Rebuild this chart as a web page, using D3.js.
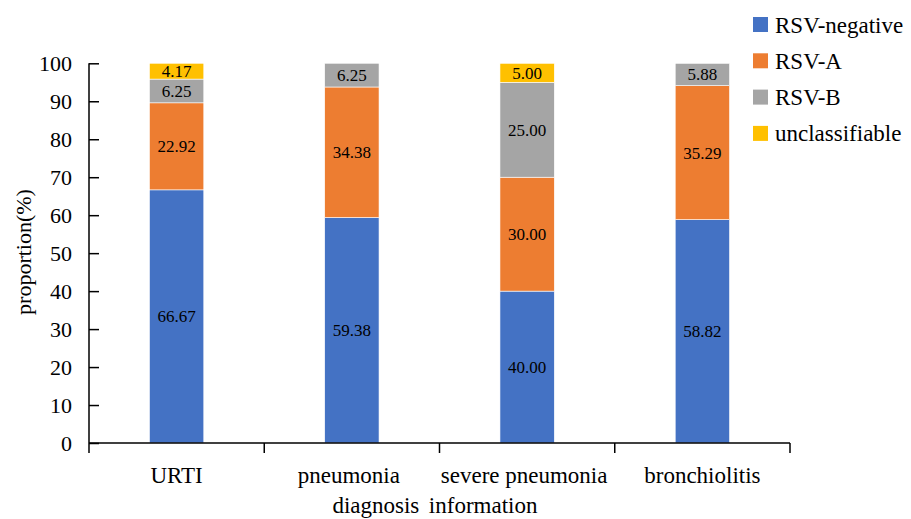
<!DOCTYPE html>
<html><head><meta charset="utf-8">
<script src="https://cdn.jsdelivr.net/npm/d3@7"></script>
<style>body{margin:0;background:#fff}svg{display:block}svg text{font-family:"Liberation Serif","Times New Roman",serif !important;fill:#000}</style>
</head><body><svg id="c" width="911" height="519"></svg>
<script>
const categories = ["URTI", "pneumonia diagnosis", "severe pneumonia information", "bronchiolitis"];
const categoryLines = [["URTI"], ["pneumonia", "diagnosis"], ["severe pneumonia", "information"], ["bronchiolitis"]];
const seriesNames = ["RSV-negative", "RSV-A", "RSV-B", "unclassifiable"];
const rsvNegative = [66.67, 59.38, 40.00, 58.82];
const rsvA = [22.92, 34.38, 30.00, 35.29];
const rsvB = [6.25, 6.25, 25.00, 5.88];
const unclassifiable = [4.17, 0, 5.00, 0];
const yTicks = [0, 10, 20, 30, 40, 50, 60, 70, 80, 90, 100];
const colors = ["#4472C4", "#ED7D31", "#A5A5A5", "#FFC000"];

const FONT = '"Liberation Serif", "Times New Roman", serif';
const seriesVals = [rsvNegative, rsvA, rsvB, unclassifiable];
const rows = categories.map((c, i) => {
  const r = {cat: c};
  seriesNames.forEach((s, j) => r[s] = seriesVals[j][i]);
  return r;
});
const stacked = d3.stack().keys(seriesNames)(rows);

const svg = d3.select("#c").attr("font-family", FONT);
const mLeft = 89, mRight = 790, mTop = 63.3, mBottom = 443;
const x = d3.scaleBand().domain(categories).range([mLeft, mRight]).paddingInner(0.69).paddingOuter(0.345);
const y = d3.scaleLinear().domain([0, 100]).range([mBottom, mTop]);

// bars
const g = svg.append("g");
stacked.forEach((layer, j) => {
  g.selectAll(null).data(layer.filter(d => d[1] - d[0] > 0)).enter().append("rect")
    .attr("x", d => x(d.data.cat))
    .attr("width", x.bandwidth())
    .attr("y", d => y(d[1]))
    .attr("height", d => y(d[0]) - y(d[1]))
    .attr("fill", colors[j])
    .attr("stroke", "#fff").attr("stroke-width", 0.6);
  g.selectAll(null).data(layer.filter(d => d[1] - d[0] > 0)).enter().append("text")
    .attr("x", d => x(d.data.cat) + x.bandwidth() / 2)
    .attr("y", d => (y(d[0]) + y(d[1])) / 2)
    .attr("dy", "0.35em")
    .attr("text-anchor", "middle")
    .attr("font-family", FONT)
    .style("font-size", "17px")
    .text(d => (d[1] - d[0]).toFixed(2));
});

// y axis
const yAxis = d3.axisLeft(y).tickValues(yTicks).tickSize(-10).tickPadding(17).tickSizeOuter(0);
const ya = svg.append("g").attr("transform", `translate(${mLeft},0)`).call(yAxis).attr("font-family", FONT);
ya.select(".domain").attr("stroke", "#000").attr("stroke-width", 1.5).attr("d", `M0,${mTop}V${mBottom + 10}`);
ya.selectAll(".tick line").attr("stroke", "#000").attr("stroke-width", 1.5);
ya.selectAll(".tick text").attr("font-family", FONT).style("font-size", "22px").attr("fill", "#000");

// x axis
const xa = svg.append("g").attr("transform", `translate(0,${mBottom})`);
xa.append("path").attr("d", `M${mLeft},0H${mRight}`).attr("stroke", "#000").attr("stroke-width", 1.5);
const edges = categories.map(c => x(c) - x.step() * x.paddingOuter()).concat([mRight]);
xa.selectAll(null).data(edges.slice(1)).enter().append("line")
  .attr("x1", d => d).attr("x2", d => d).attr("y1", 0).attr("y2", 10)
  .attr("stroke", "#000").attr("stroke-width", 1.5);
const lineOffsets = [[0], [-3, 24], [-3, -44], [0]];
categories.forEach((c, i) => {
  const cx = x(c) + x.bandwidth() / 2;
  categoryLines[i].forEach((ln, k) => {
    xa.append("text").attr("x", cx + lineOffsets[i][k]).attr("y", 40 + k * 30)
      .attr("text-anchor", "middle").attr("font-family", FONT).style("font-size", "23px").text(ln);
  });
});

// y label
svg.append("text").attr("transform", "translate(31,252) rotate(-90)")
  .attr("text-anchor", "middle").attr("font-family", FONT).style("font-size", "22px").text("proportion(%)");

// legend
const lg = svg.append("g");
seriesNames.forEach((s, j) => {
  const cy = 24.5 + j * 36.3;
  lg.append("rect").attr("x", 753).attr("y", cy - 7.5).attr("width", 15).attr("height", 15).attr("fill", colors[j]);
  lg.append("text").attr("x", 775).attr("y", cy).attr("dy", "0.35em").attr("font-family", FONT).style("font-size", "23px").text(s);
});
</script></body></html>
